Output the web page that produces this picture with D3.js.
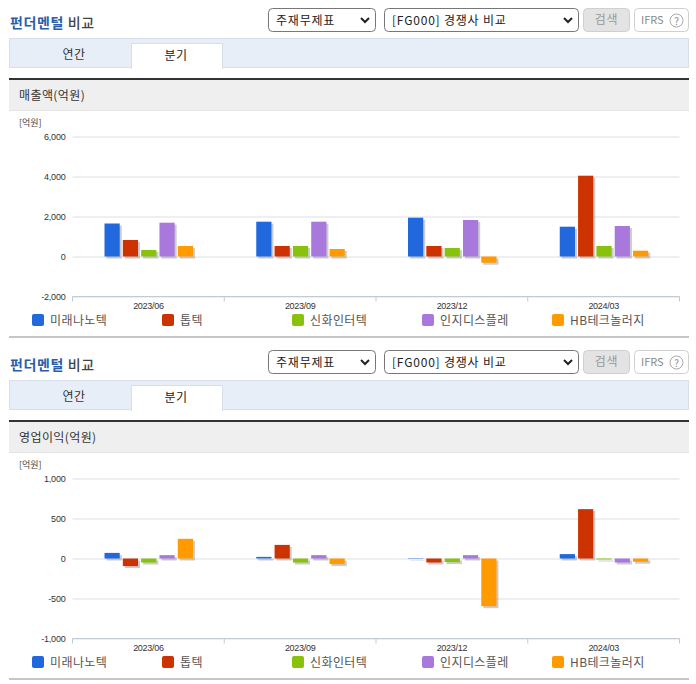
<!DOCTYPE html>
<html>
<head>
<meta charset="utf-8">
<script src="https://cdn.jsdelivr.net/npm/d3@7"></script>
<style>
  html, body { margin: 0; padding: 0; background: #fff; }
  svg { display: block; }
  text { font-family: "Noto Sans CJK KR", "Noto Sans", sans-serif; }
</style>
</head>
<body>
<svg id="page" width="696" height="684"></svg>
<script>
const periods = ['2023/06', '2023/09', '2023/12', '2024/03']
const companies = ['미래나노텍', '톱텍', '신화인터텍', '인지디스플레', 'HB테크놀러지']
const colors = ['#2068dc', '#cc3300', '#88c20c', '#a878dc', '#ff9a00']

// one array per company, one value per period
const salesMirae = [1650, 1740, 1940, 1490]
const salesToptec = [825, 525, 525, 4040]
const salesShinhwa = [325, 525, 425, 525]
const salesInzi = [1690, 1740, 1825, 1525]
const salesHb = [525, 375, -310, 290]

const profitMirae = [70, 20, 5, 55]
const profitToptec = [-95, 170, -50, 617]
const profitShinhwa = [-50, -50, -45, -12]
const profitInzi = [42, 42, 42, -50]
const profitHb = [246, -70, -596, -40]

const salesTicks = [6000, 4000, 2000, 0, -2000]
const profitTicks = [1000, 500, 0, -500, -1000]

const svg = d3.select('#page')
// plain hyphen on negative ticks, d3 would give a long minus
const tickFormat = d3.formatLocale({ decimal: '.', thousands: ',', grouping: [3], currency: ['', ''], minus: '-' }).format(',')

function header(g) {
    let title = g.append('text').attr('x', 10).attr('y', 28)
        .attr('font-size', 14).attr('letter-spacing', 0.6)
    title.append('tspan').attr('fill', '#2b5ea8').attr('font-weight', 700).text('펀더멘털')
    title.append('tspan').attr('fill', '#444').attr('font-weight', 500).text(' 비교')

    selectBox(g, 268, 107, '주재무제표')
    selectBox(g, 384, 194, '[FG000] 경쟁사 비교')

    g.append('rect').attr('x', 583.5).attr('y', 8.5).attr('width', 46).attr('height', 23).attr('rx', 4)
        .attr('fill', '#e3e3e3').attr('stroke', '#cfcfcf')
    g.append('text').attr('x', 606.5).attr('y', 24).attr('text-anchor', 'middle')
        .attr('font-size', 12).attr('letter-spacing', 0.6).attr('fill', '#999').text('검색')

    g.append('rect').attr('x', 634.5).attr('y', 8.5).attr('width', 54).attr('height', 23).attr('rx', 4)
        .attr('fill', '#fff').attr('stroke', '#d0d0d0')
    g.append('text').attr('x', 641).attr('y', 24).attr('font-size', 11).attr('fill', '#888').text('IFRS')
    g.append('circle').attr('cx', 676.5).attr('cy', 20.5).attr('r', 6.5)
        .attr('fill', 'none').attr('stroke', '#aaa')
    g.append('text').attr('x', 676.5).attr('y', 24.5).attr('text-anchor', 'middle')
        .attr('font-size', 10).attr('fill', '#888').text('?')

    g.append('rect').attr('x', 9.5).attr('y', 38.5).attr('width', 679).attr('height', 29)
        .attr('fill', '#e8eef8').attr('stroke', '#d8dfe8')
    g.append('rect').attr('x', 131.5).attr('y', 43.5).attr('width', 91).attr('height', 25)
        .attr('fill', '#fff').attr('stroke', '#d8dfe8')
    g.append('rect').attr('x', 132).attr('y', 66).attr('width', 90).attr('height', 3).attr('fill', '#fff')
    g.append('text').attr('x', 74).attr('y', 59).attr('text-anchor', 'middle')
        .attr('font-size', 12).attr('letter-spacing', 0.5).attr('fill', '#333').text('연간')
    g.append('text').attr('x', 176).attr('y', 60).attr('text-anchor', 'middle')
        .attr('font-size', 12).attr('letter-spacing', 0.5).attr('fill', '#222').text('분기')
}

function selectBox(g, x, w, label) {
    g.append('rect').attr('x', x + 0.5).attr('y', 8.5).attr('width', w).attr('height', 23).attr('rx', 4)
        .attr('fill', '#fff').attr('stroke', '#777')
    g.append('text').attr('x', x + 8).attr('y', 25).attr('font-size', 12).attr('letter-spacing', 0.8)
        .attr('fill', '#222').text(label)
    g.append('path')
        .attr('d', `M${x + w - 14},18 l4,4 l4,-4`)
        .attr('fill', 'none').attr('stroke', '#222').attr('stroke-width', 2)
}

function chart(g, name, ticks, seriesList) {
    g.append('rect').attr('x', 9).attr('y', 78).attr('width', 680).attr('height', 2).attr('fill', '#333')
    g.append('rect').attr('x', 9).attr('y', 80).attr('width', 680).attr('height', 30).attr('fill', '#efefef')
    g.append('rect').attr('x', 9).attr('y', 110).attr('width', 680).attr('height', 1).attr('fill', '#e4e4e4')
    g.append('text').attr('x', 19).attr('y', 100).attr('font-size', 12).attr('letter-spacing', 0.4)
        .attr('fill', '#333').text(name)
    g.append('text').attr('x', 19).attr('y', 126).attr('font-size', 9).attr('fill', '#444').text('[억원]')

    let y = d3.scaleLinear().domain(d3.extent(ticks)).range([296.5, 136.5])
    let x = d3.scaleBand().domain(periods).range([72.5, 679.5])
    let inner = d3.scaleBand().domain(companies).range([0, 88.5]).paddingInner(0.17)

    let yAxis = g.append('g').attr('transform', 'translate(72.5,0)')
        .call(d3.axisLeft(y).tickValues(ticks).tickSize(-607).tickPadding(7).tickFormat(tickFormat))
    yAxis.select('.domain').remove()
    yAxis.selectAll('line').attr('stroke', '#dcdfe4')
    yAxis.selectAll('text').attr('font-size', 9).attr('letter-spacing', -0.2).attr('fill', '#333')
        .style('font-family', '"Liberation Sans", sans-serif')

    let xAxis = g.append('g').attr('transform', 'translate(0,296.5)')
        .call(d3.axisBottom(x).tickSize(0).tickPadding(6))
    xAxis.select('.domain').attr('stroke', '#c3cad6').attr('d', 'M72.5,0H679.5')
    xAxis.selectAll('text').attr('font-size', 9).attr('letter-spacing', -0.3).attr('fill', '#333')
        .style('font-family', '"Liberation Sans", sans-serif')
    g.append('g').selectAll('line')
        .data(d3.range(periods.length + 1))
        .enter().append('line')
        .attr('x1', d => x.range()[0] + d * x.step())
        .attr('x2', d => x.range()[0] + d * x.step())
        .attr('y1', 296.5).attr('y2', 301.5)
        .attr('stroke', '#c3cad6')

    let rows = []
    seriesList.forEach((values, c) => {
        values.forEach((v, p) => rows.push({ company: companies[c], period: periods[p], value: v, color: colors[c] }))
    })
    let barX = d => x(d.period) + 32 + inner(d.company)
    let barY = d => Math.min(y(d.value), y(0))
    let barH = d => Math.abs(y(d.value) - y(0))

    // soft grey drop shadow first, bars over it
    g.append('g').selectAll('rect').data(rows).enter().append('rect')
        .attr('x', d => barX(d) + 2)
        .attr('y', d => barY(d) + 2)
        .attr('width', inner.bandwidth())
        .attr('height', barH)
        .attr('fill', '#9a9a9a').attr('opacity', 0.5)
    g.append('g').selectAll('rect').data(rows).enter().append('rect')
        .attr('x', barX)
        .attr('y', barY)
        .attr('width', inner.bandwidth())
        .attr('height', barH)
        .attr('fill', d => d.color)

    let legendX = d3.scalePoint().domain(companies).range([32, 552])
    let legend = g.append('g').selectAll('g').data(companies).enter().append('g')
        .attr('transform', d => `translate(${legendX(d)},314)`)
    legend.append('rect').attr('width', 12).attr('height', 12).attr('rx', 2)
        .attr('fill', (d, i) => colors[i])
    legend.append('text').attr('x', 18).attr('y', 11).attr('font-size', 12).attr('letter-spacing', 0.4)
        .attr('fill', '#555').text(d => d)

    g.append('rect').attr('x', 9).attr('y', 336).attr('width', 680).attr('height', 2).attr('fill', '#c6c6c6')
}

let upper = svg.append('g')
header(upper)
chart(upper, '매출액(억원)', salesTicks, [salesMirae, salesToptec, salesShinhwa, salesInzi, salesHb])

let lower = svg.append('g').attr('transform', 'translate(0,342)')
header(lower)
chart(lower, '영업이익(억원)', profitTicks, [profitMirae, profitToptec, profitShinhwa, profitInzi, profitHb])
</script>
</body>
</html>
